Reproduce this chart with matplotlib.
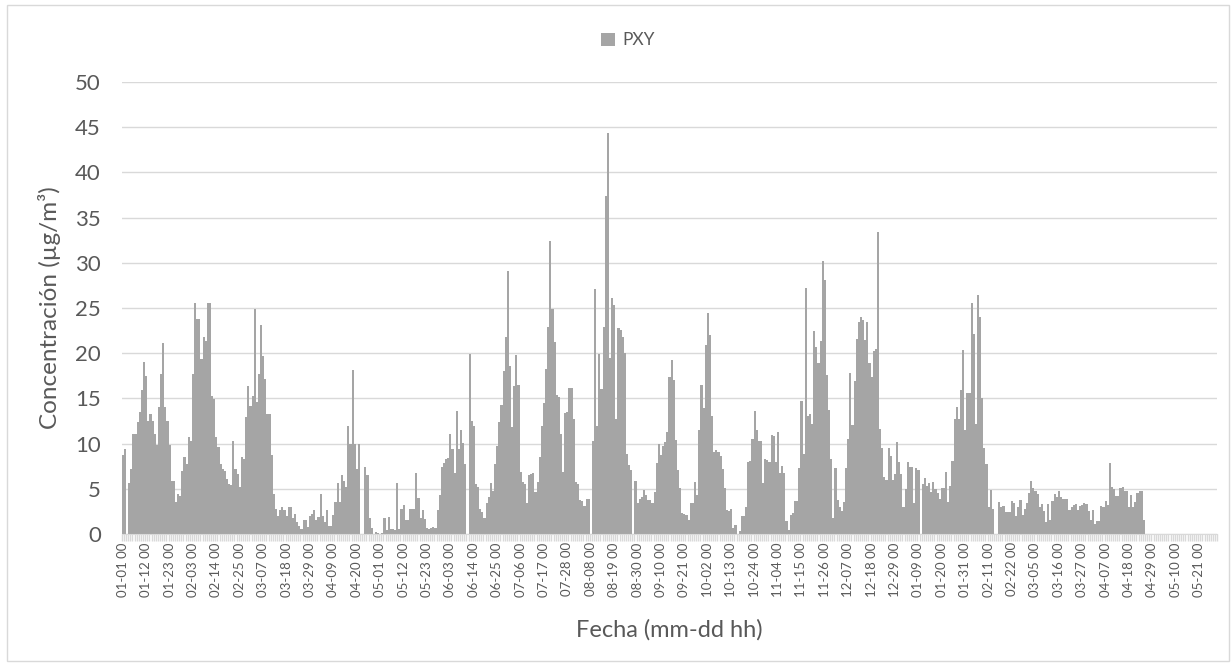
import numpy as np
import pandas as pd
import matplotlib
matplotlib.use('Agg')
from matplotlib import pyplot as plt
from matplotlib.patches import Rectangle

plt.rcParams['font.family'] = ['Lato', 'DejaVu Sans']

nan = np.nan

# daily PXY concentration (ug/m3), NaN = no data
winter_16 = [8.7, 9.4, nan, 5.6, 7.2, 11.1, 11.1, 12.4, 13.5, 15.9,
             19.0, 17.5, 12.5, 13.3, 12.5, 11.1, 9.8, 14.0, 17.7, 21.1,
             14.0, 12.5, 9.8, 5.9, 5.9, 3.5, 4.4, 4.2, 7.0, 8.5,
             7.7, 10.7, 10.3, 17.7, 25.6, 23.8, 23.8, 19.4, 21.8, 21.4,
             25.6, 25.6, 15.3, 14.9, 10.7, 9.6, 7.7, 7.2, 7.0, 6.1,
             5.5, 5.4, 10.3, 7.2, 6.6, 5.2, 8.5, 8.3, 12.9, 16.4]
spring_16 = [14.2, 15.3, 24.9, 14.6, 17.7, 23.1, 19.7, 17.2, 13.3, 13.3,
             8.7, 4.4, 2.8, 2.0, 2.6, 3.0, 2.6, 2.0, 3.0, 3.0,
             1.8, 2.2, 1.3, 0.9, 0.6, 1.5, 1.5, 0.8, 2.0, 2.2,
             2.6, 1.5, 1.9, 4.4, 2.0, 1.3, 2.6, 0.9, 0.9, 2.1,
             3.5, 5.6, 3.5, 6.5, 5.9, 5.2, 12.0, 10.0, 18.1, 10.0,
             7.2, 10.0, nan, nan, 7.4, 6.5, 1.8, 0.7, nan, 0.2,
             0.1, nan, 0.1, 1.8, 0.4, 1.9, 0.6, 0.6, 0.4, 5.6,
             0.6, 2.8, 3.2, 1.5, 1.5, 2.8, 2.8, 2.8, 6.7, 4.0,
             1.8, 2.7, 1.7, 0.7, 0.6, 0.7, 0.8, 0.7, 2.6, 4.3,
             7.4, 7.9]
summer_16 = [8.3, 8.4, 11.1, 9.4, 6.8, 13.6, 9.4, 11.5,
             10.1, 7.7, nan, 19.9, 12.5, 12.0, 5.5, 5.2, 2.8, 2.4,
             1.8, 3.4, 4.1, 5.6, 4.8, 7.7, 9.7, 12.4, 14.3, 18.0,
             21.8, 29.1, 18.6, 11.8, 16.4, 19.8, 16.5, 6.9, 5.8, 5.5,
             3.4, 6.5, 6.6, 6.8, 4.6, 5.7, 8.5, 11.9, 14.5, 18.3,
             22.9, 32.4, 24.9, 21.2, 15.4, 15.2, 11.1, 6.9, 13.4, 13.5,
             16.1, 16.1, 12.7, 5.8, 5.5, 3.8, 3.7, 3.1, 3.9, 3.9,
             nan, 10.3, 27.1, 11.9, 19.9, 16.0, 22.9, 37.4, 44.4, 19.5,
             26.1, 25.3, 12.7, 22.8, 22.6, 21.8, 20.0, 8.9, 7.6, 7.1,
             nan, 5.9, 3.4, 3.9]
autumn_16 = [4.1, 4.9, 4.3, 3.8, 3.8, 3.4,
             4.6, 7.8, 10.0, 8.7, 9.7, 10.2, 11.3, 17.4, 19.2, 17.0,
             10.4, 7.1, 5.1, 2.3, 2.2, 2.1, 1.5, 3.4, 3.4, 5.8,
             4.3, 11.5, 16.5, 13.9, 20.9, 24.4, 22.0, 13.0, 9.1, 9.3,
             9.1, 8.6, 7.2, 5.1, 2.7, 2.5, 2.8, 0.7, 1.0, nan,
             0.3, 2.0, 2.0, 3.0, 8.0, 8.1, 10.5, 13.6, 11.5, 10.3,
             10.3, 5.6, 8.3, 8.2, 8.0, 11.0, 10.8, 8.0, 11.3, 6.7,
             7.5, 6.7, 1.4, 0.4, 2.1, 2.3, 3.7, 3.7, 7.3, 14.7,
             8.9, 27.2, 13.0, 13.3, 12.2, 22.4, 20.7, 18.9, 21.3, 30.2,
             28.1, 17.6, 13.7, 8.3, 1.8]
winter_17 = [7.3, 3.8, 3.0, 2.5, 3.5,
             7.3, 10.5, 17.8, 12.1, 16.9, 21.6, 23.5, 24.0, 23.7, 21.5,
             23.5, 18.9, 17.4, 20.2, 20.5, 33.4, 11.6, 9.5, 6.3, 6.0,
             9.5, 8.6, 6.0, 6.6, 10.2, 8.0, 6.6, 3.0, 5.0, 8.0,
             7.4, 7.4, 3.4, 7.3, 7.1, nan, 5.5, 6.2, 5.3, 5.6,
             4.7, 5.7, 5.0, 4.5, 3.9, 5.1, 5.1, 6.9, 3.5, 5.3,
             8.1, 12.7, 14.0, 12.7, 15.9, 20.4, 11.5, 15.6, 15.6, 25.6,
             22.1, 12.2, 26.4, 24.0, 15.0, 9.5, 7.7, 3.0, 4.9, 2.8,
             nan, nan, 3.5, 3.0, 3.1, 2.4, 2.4, 2.4, 3.6, 3.4,
             2.0, 3.0, 3.8, 2.1, 2.8]
spring_17 = [3.4, 4.5, 5.9, 5.1, 4.8,
             4.4, 3.0, 3.3, 2.5, 1.3, 3.3, 1.5, 3.7, 4.4, 4.1,
             4.8, 4.1, 3.9, 3.9, 3.9, 2.7, 3.0, 3.2, 3.3, 2.7,
             3.1, 3.2, 3.4, 3.3, 2.5, 1.6, 2.7, 1.1, 1.4, 1.4,
             3.1, 3.0, 3.6, 3.2, 7.9, 5.2, 5.0, 4.2, 4.2, 5.1,
             5.2, 4.8, 4.8, 3.0, 4.3, 3.0, 3.5, 4.5, 4.8, 4.8, 1.5]

start_date = '2016-01-01'
n_days = 515
label_every = 11

series = winter_16 + spring_16 + summer_16 + autumn_16 + winter_17 + spring_17
values = np.full(n_days, np.nan)
values[:len(series)] = series
dates = pd.date_range(start_date, periods=n_days, freq='D')
labels = list(dates.strftime('%m-%d %H'))

txt = '#595959'
grid = '#D9D9D9'

fig = plt.figure(figsize=(12.31, 6.64), dpi=100)
fig.patches.append(Rectangle((0.006, 0.005), 0.992, 0.987, transform=fig.transFigure,
                             fill=False, edgecolor=grid, lw=1))
ax = fig.add_axes([0.0989, 0.1958, 0.890, 0.6807])

x = np.arange(n_days)
ax.bar(x, np.nan_to_num(values), width=1.0, color='#A5A5A5', linewidth=0,
       antialiased=False, label='PXY')

ax.set_xlim(-0.5, n_days - 0.5)
ax.set_ylim(0, 50)
ax.set_yticks(np.arange(0, 51, 5))
ax.yaxis.grid(True, color=grid, lw=1)
ax.set_axisbelow(True)

ax.set_xticks(x[::label_every])
ax.set_xticklabels(labels[::label_every], rotation=90, fontsize=9.5, color=txt)
ax.set_xticks(np.arange(n_days + 1) - 0.5, minor=True)
ax.tick_params(axis='x', which='major', length=0, pad=6)
ax.tick_params(axis='x', which='minor', length=5, color=grid, width=1)
ax.tick_params(axis='y', length=0, pad=15, labelsize=16, labelcolor=txt)

for s in ['top', 'right', 'left']:
    ax.spines[s].set_visible(False)
ax.spines['bottom'].set_color(grid)

ax.set_ylabel('Concentración (µg/m³)', fontsize=17.5, color=txt, labelpad=10)
ax.set_xlabel('Fecha (mm-dd hh)', fontsize=17, color=txt, labelpad=16)

fig.legend(loc='upper center', bbox_to_anchor=(0.51, 0.975), frameon=False,
           fontsize=12.5, handlelength=0.8, handleheight=0.8, handletextpad=0.4,
           labelcolor=txt)

fig.savefig('out.png', dpi=100)
